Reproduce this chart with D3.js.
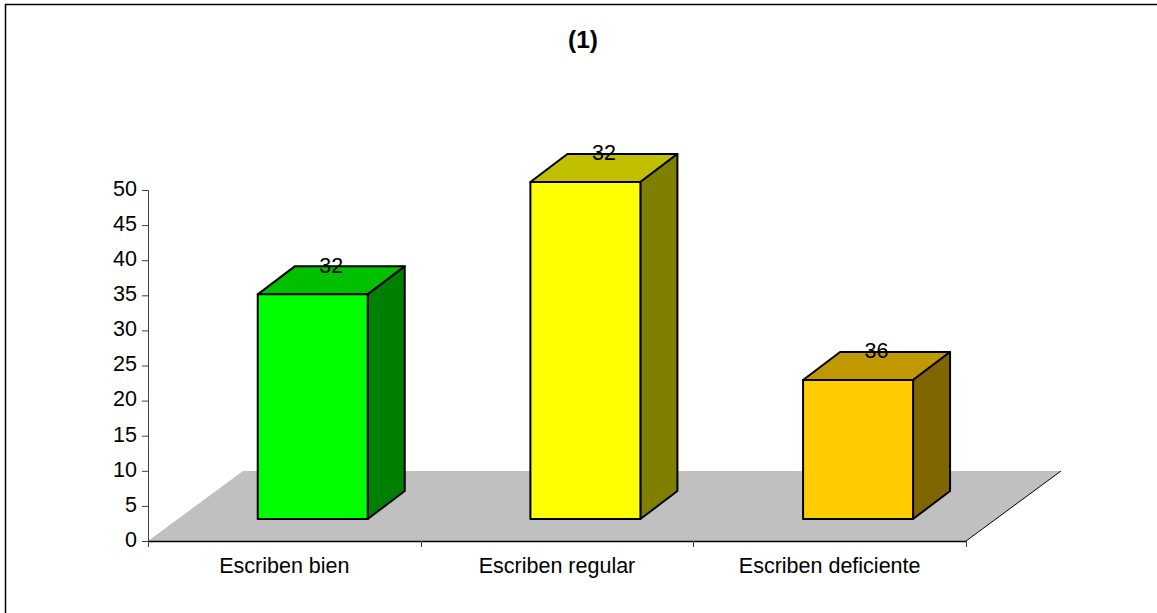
<!DOCTYPE html>
<html>
<head>
<meta charset="utf-8">
<script src="https://cdn.jsdelivr.net/npm/d3@7"></script>
<style>
  html, body { margin: 0; padding: 0; background: #fff; }
  text { font-family: "Liberation Sans", Arial, sans-serif; fill: #000; }
</style>
</head>
<body>
<div id="chart"></div>
<script>
var categories = ["Escriben bien", "Escriben regular", "Escriben deficiente"];
var values = [32, 48, 19.8];
var valueLabels = ["32", "32", "36"];
var front = ["#00ff00", "#ffff00", "#ffcc00"];
var top3d = ["#00c000", "#c0c000", "#c09900"];
var side = ["#008000", "#808000", "#806600"];
var yTicks = [0, 5, 10, 15, 20, 25, 30, 35, 40, 45, 50];

var width = 1157, height = 613;

var svg = d3.select("#chart").append("svg")
    .attr("width", width)
    .attr("height", height)
    .style("display", "block");

// frame: only top and left edges are visible in the original
svg.append("path")
    .attr("d", "M5.5,613V4.5H1157")
    .attr("fill", "none")
    .attr("stroke", "#000")
    .attr("stroke-width", 1.5);

var x = d3.scaleBand().domain(categories).range([148, 966]);
var y = d3.scaleLinear().domain([0, 50]).range([541, 190]);

// floor
var floorDx = 95, floorDy = 70;
svg.append("path")
    .attr("d", d3.line()([[148, 541], [148 + floorDx, 541 - floorDy], [966 + floorDx, 541 - floorDy], [966, 541]]) + "Z")
    .attr("fill", "#c0c0c0");
svg.append("line")
    .attr("x1", 966).attr("y1", 541)
    .attr("x2", 966 + floorDx).attr("y2", 541 - floorDy)
    .attr("stroke", "#000");

// bars: front face is pushed into the floor, then extruded further back
var barW = 110, shiftX = 28.4, shiftY = 22, depthX = 37, depthY = 28;

var bar = svg.append("g").attr("class", "bars")
  .selectAll("g")
    .data(categories)
  .enter().append("g");

function poly(points) { return d3.line()(points) + "Z"; }
function left(d) { return x(d) + x.bandwidth() / 2 - barW / 2 + shiftX; }
function base() { return y(0) - shiftY; }
function head(i) { return base() - (y(0) - y(values[i])); }

bar.append("path")
    .attr("fill", function(d, i) { return top3d[i]; })
    .attr("d", function(d, i) {
      var l = left(d), t = head(i);
      return poly([[l, t], [l + depthX, t - depthY], [l + barW + depthX, t - depthY], [l + barW, t]]);
    });

bar.append("path")
    .attr("fill", function(d, i) { return side[i]; })
    .attr("d", function(d, i) {
      var r = left(d) + barW, t = head(i), b = base();
      return poly([[r, t], [r + depthX, t - depthY], [r + depthX, b - depthY], [r, b]]);
    });

bar.append("path")
    .attr("fill", function(d, i) { return front[i]; })
    .attr("d", function(d, i) {
      var l = left(d), t = head(i), b = base();
      return poly([[l, t], [l + barW, t], [l + barW, b], [l, b]]);
    });

bar.selectAll("path")
    .attr("stroke", "#000")
    .attr("stroke-width", 2)
    .attr("stroke-linejoin", "round");

bar.append("text")
    .attr("x", function(d) { return left(d) + barW / 2 + depthX / 2; })
    .attr("y", function(d, i) { return head(i) - depthY; })
    .attr("dy", "0.3em")
    .attr("text-anchor", "middle")
    .style("font-size", "21.5px")
    .text(function(d, i) { return valueLabels[i]; });

// axes
var yAxis = d3.axisLeft(y).tickValues(yTicks).tickSize(6).tickPadding(5);
var gy = svg.append("g").attr("transform", "translate(148,0)").call(yAxis);
gy.selectAll("text").style("font-size", "21.5px").attr("dy", "0.25em");
gy.selectAll("line, path").attr("stroke", "#404040");

var gx = svg.append("g").attr("transform", "translate(0,541)")
    .call(d3.axisBottom(x).tickSize(0).tickPadding(17));
gx.selectAll("text").style("font-size", "21.5px");
gx.select("path").attr("stroke", "#000").attr("stroke-width", 1.5);

// tick marks fall between the categories, not on them
gx.selectAll("line.sep")
    .data(categories.concat(["end"]))
  .enter().append("line")
    .attr("class", "sep")
    .attr("x1", function(d, i) { return Math.round(148 + i * x.step()) + 0.5; })
    .attr("x2", function(d, i) { return Math.round(148 + i * x.step()) + 0.5; })
    .attr("y1", 0).attr("y2", 6)
    .attr("stroke", "#404040");

svg.append("text")
    .attr("x", 583).attr("y", 48)
    .attr("text-anchor", "middle")
    .style("font-size", "24.5px")
    .style("font-weight", "bold")
    .text("(1)");
</script>
</body>
</html>
